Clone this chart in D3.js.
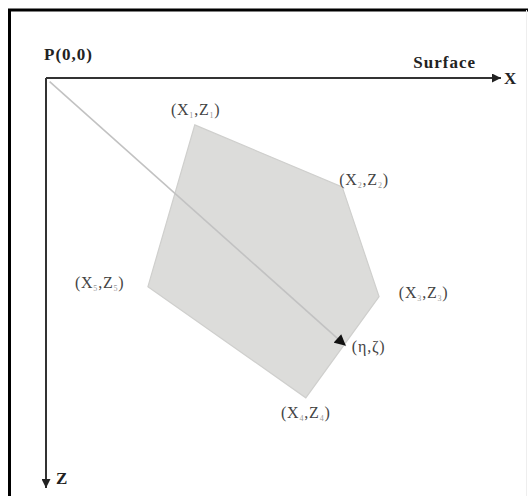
<!DOCTYPE html>
<html><head><meta charset="utf-8">
<script src="https://cdn.jsdelivr.net/npm/d3@7"></script>
<style>body{margin:0;background:#fff}svg{display:block}</style>
</head><body>
<script>
// Data (model units; origin P(0,0) at top-left, X to the right, Z downward)
const vertexNames = ["1", "2", "3", "4", "5"];
const vertexX = [3.27, 6.51, 7.32, 5.71, 2.24];
const vertexZ = [1.03, 2.39, 4.80, 7.02, 4.58];
const labelDX = [0.02, 0.48, 0.98, -0.0, -1.06];
const labelDZ = [-0.33, -0.15, -0.09, 0.33, -0.09];
const rayStart = [0.08, 0.08];
const rayEnd = [6.59, 5.88];
const xDomain = [0, 10];
const zDomain = [0, 9];

const W = 528, H = 496;
const svg = d3.select("body").append("svg").attr("width", W).attr("height", H);
const x = d3.scaleLinear().domain(xDomain).range([46, 501]);
const z = d3.scaleLinear().domain(zDomain).range([78, 488]);

const defs = svg.append("defs");
defs.append("marker").attr("id", "ah").attr("viewBox", "0 0 10 10")
  .attr("refX", 10).attr("refY", 5).attr("markerWidth", 5).attr("markerHeight", 4.5)
  .attr("markerUnits", "strokeWidth").attr("orient", "auto")
  .append("path").attr("d", "M0,0L10,5L0,10Z").attr("fill", "#222");
defs.append("marker").attr("id", "ah2").attr("viewBox", "0 0 10 10")
  .attr("refX", 10).attr("refY", 5).attr("markerWidth", 8).attr("markerHeight", 7)
  .attr("markerUnits", "strokeWidth").attr("orient", "auto")
  .append("path").attr("d", "M0,0L10,5L0,10Z").attr("fill", "#111");

// frame
svg.append("path").attr("d", `M9.5,${H}V10H${W}`).attr("fill", "none")
  .attr("stroke", "#000").attr("stroke-width", 3);
svg.append("line").attr("x1", 526.5).attr("x2", 526.5).attr("y1", 10).attr("y2", H)
  .attr("stroke", "#eee").attr("stroke-width", 1);

// polygon
const pts = vertexX.map((v, i) => [x(v), z(vertexZ[i])]);
svg.append("path").attr("d", d3.line()(pts) + "Z")
  .attr("fill", "#dcdcda").attr("stroke", "#cfcfcd").attr("stroke-width", 1.2);

// ray
svg.append("line").attr("x1", x(rayStart[0])).attr("y1", z(rayStart[1]))
  .attr("x2", x(rayEnd[0])).attr("y2", z(rayEnd[1]))
  .attr("stroke", "#c2c2c2").attr("stroke-width", 1.6).attr("marker-end", "url(#ah2)");

// axes
svg.append("line").attr("x1", x(0)).attr("y1", z(0)).attr("x2", x(xDomain[1])).attr("y2", z(0))
  .attr("stroke", "#333").attr("stroke-width", 2).attr("marker-end", "url(#ah)");
svg.append("line").attr("x1", x(0)).attr("y1", z(0)).attr("x2", x(0)).attr("y2", z(zDomain[1]))
  .attr("stroke", "#333").attr("stroke-width", 2).attr("marker-end", "url(#ah)");

const serif = "'Liberation Serif','Times New Roman',serif";
const bold = (t, px, py, anchor) => svg.append("text").attr("x", px).attr("y", py)
  .attr("font-family", serif).attr("font-weight", "bold").attr("font-size", 17)
  .attr("letter-spacing", 1).attr("fill", "#222").attr("text-anchor", anchor || "start").text(t);
bold("P(0,0)", 44, 60);
bold("Surface", 476, 68, "end");
bold("X", 504, 84);
bold("Z", 56, 484);

// vertex labels
pts.forEach((p, i) => {
  const t = svg.append("text")
    .attr("x", x(vertexX[i] + labelDX[i])).attr("y", z(vertexZ[i] + labelDZ[i]) + 5)
    .attr("text-anchor", "middle").attr("font-family", serif).attr("font-size", 16)
    .attr("letter-spacing", 0.8).attr("fill", "#444");
  t.append("tspan").text("(X");
  t.append("tspan").attr("font-size", 8).attr("dy", 3).attr("fill", "#999").text(vertexNames[i]);
  t.append("tspan").attr("dy", -3).text(",Z");
  t.append("tspan").attr("font-size", 8).attr("dy", 3).attr("fill", "#999").text(vertexNames[i]);
  t.append("tspan").attr("dy", -3).text(")");
});
svg.append("text").attr("x", x(rayEnd[0]) + 6).attr("y", z(rayEnd[1]) + 6)
  .attr("font-family", serif).attr("font-size", 16).attr("letter-spacing", 0.8)
  .attr("fill", "#444").text("(η,ζ)");
</script>
</body></html>
